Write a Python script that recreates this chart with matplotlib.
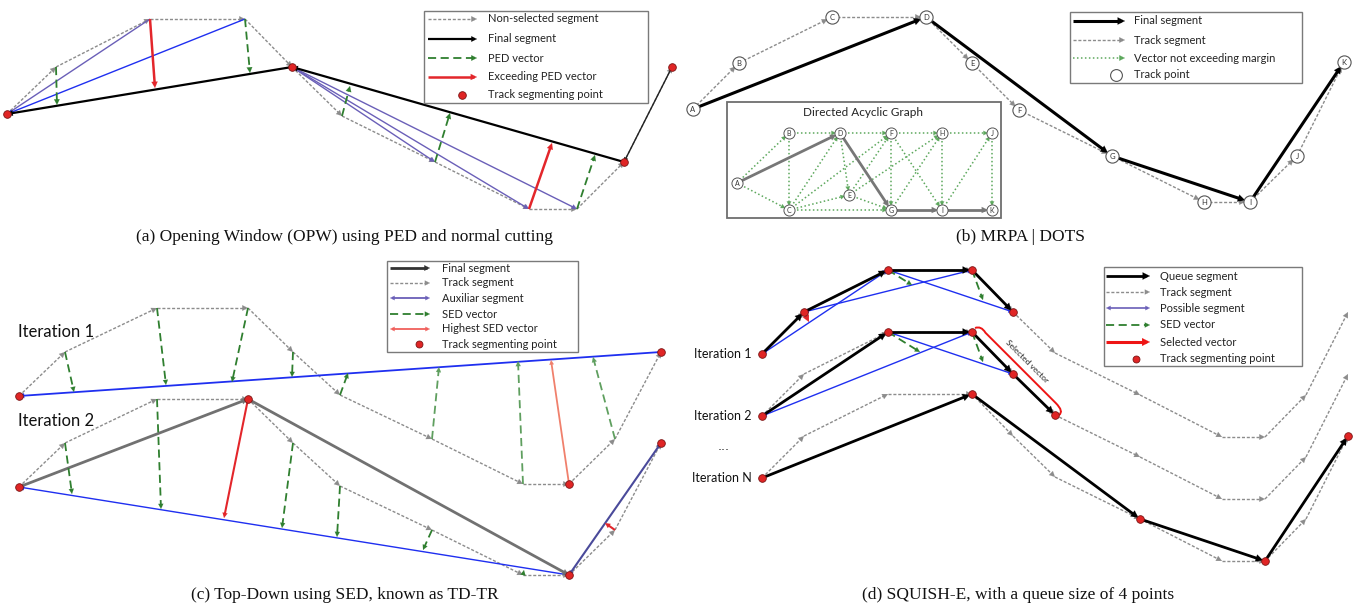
import numpy as np
import matplotlib.pyplot as plt
from matplotlib.patches import Rectangle, PathPatch
from matplotlib.path import Path

# ---------------- data (figure pixel coordinates, y grows downward) ----------------
# (a) Opening Window
a_x = [7, 56, 150, 245, 292, 342, 435, 529, 577, 624, 672]
a_y = [114, 67, 19, 19, 67, 116, 162, 209, 209, 162, 67]
a_split = [0, 4, 9, 10]
a_ped_from = [1, 2, 3, 5, 6, 7, 8]
a_ped_x = [57, 155, 250, 350, 450, 552, 595]
a_ped_y = [105, 88, 73, 86, 113, 143, 155]
a_exceed = [2, 7]

# (b) MRPA | DOTS
b_names = list('ABCDEFGHIJK')
b_x = [693, 739, 832, 926, 972, 1019, 1112, 1204, 1250, 1297, 1344]
b_y = [109, 63, 17, 17, 63, 110, 156, 202, 202, 156, 62]
b_final = 'ADGIK'
dag_x = [737, 789, 789, 840, 849, 891, 891, 942, 942, 992, 992]
dag_y = [183, 133, 210, 133, 195, 133, 210, 133, 210, 133, 210]
dag_edges = ['AB', 'AC', 'BC', 'BD', 'CD', 'CE', 'CF', 'CG', 'DE', 'DF', 'EF', 'EG',
             'EH', 'FG', 'FH', 'FI', 'GH', 'HI', 'HJ', 'IJ', 'JK']

# (c) Top-Down TD-TR
c_x = [19, 65, 157, 248, 293, 340, 432, 523, 569, 615, 661]
c_y = [396, 352, 308, 308, 352, 395, 439, 484, 484, 439, 352]
c_shift = 91
c1_from = [1, 2, 3, 4, 5, 6, 7, 8, 9]
c1_foot_x = [74, 166, 232, 292, 348, 439, 518, 551, 593]
c1_foot_y = [392, 385, 382, 377, 373, 367, 361, 360, 357]
c1_high = 8
c2_from = [1, 2, 3, 4, 5, 6, 7]
c2_foot_x = [72, 161, 224, 282, 337, 423, 524]
c2_foot_y = [494, 509, 518, 528, 537, 550, 570]
c2_high = 3
c2_split = [0, 3, 8, 10]
c2_aux_x, c2_aux_y = 605, 523

# (d) SQUISH-E
d_x = [762, 804, 888, 972, 1013, 1055, 1140, 1222, 1265, 1306, 1348]
d_y = [354, 312, 270, 270, 312, 353, 395, 437, 437, 395, 312]
d_shift = [0, 62, 124]
d_queue = [[0, 1, 2, 3, 4], [0, 2, 3, 4, 5], [0, 3, 6, 8, 10]]
d_possible = [[(0, 2), (1, 3), (2, 4)], [(0, 3), (2, 4)], []]
d_sed_from = [[2, 3], [2, 3], []]
d_sed_x = [[912, 983], [920, 983], []]
d_sed_y = [[285, 300], [352, 362], []]
d_sel_x, d_sel_y = 809, 322
d_labels = ['Iteration 1', 'Iteration 2', 'Iteration N']

GRAY = '#8c8c8c'
GREEN = '#2f7f2f'
LGREEN = '#5da85d'
RED = '#e3262b'
BLUE = '#1f2ff0'
PURPLE = '#6a5fb8'
DOTRED = '#e02525'
TRACK_LS = (0, (2.2, 1.3))
SED_LS = (0, (4.5, 2.5))
DAG_LS = (0, (1.0, 1.6))

fig = plt.figure(figsize=(13.58, 6.09), dpi=100)
ax = fig.add_axes([0, 0, 1, 1])
ax.set_xlim(0, 1358)
ax.set_ylim(609, 0)
ax.axis('off')

SANS = ['Lato', 'DejaVu Sans']
SERIF = ['Liberation Serif', 'DejaVu Serif']


def tip(b, d, color, size, alpha=1.0, z=3):
    ax.annotate('', xy=b, xytext=b - d, zorder=z,
                arrowprops=dict(arrowstyle='-|>', color=color, lw=0.1, alpha=alpha,
                                mutation_scale=size, shrinkA=0, shrinkB=0))


def seg(p, q, color, lw=1.0, ls='-', head=8, sa=0, sb=0, both=False, alpha=1.0, z=3):
    p = np.asarray(p, float)
    q = np.asarray(q, float)
    d = (q - p) / np.hypot(*(q - p))
    a, b = p + d * sa, q - d * sb
    hl = 0.3 * head if head else 0
    a2 = a + d * hl if (head and both) else a
    ax.plot([a2[0], (b - d * hl)[0]], [a2[1], (b - d * hl)[1]], color=color, lw=lw, ls=ls,
            alpha=alpha, zorder=z, solid_capstyle='butt')
    if head:
        tip(b, d, color, head, alpha, z)
        if both:
            tip(a, -d, color, head, alpha, z)


def dots(xs, ys):
    ax.plot(xs, ys, 'o', ms=5.5, mfc=DOTRED, mec='#7a1414', mew=0.6, zorder=7)


def legend_box(x0, y0, x1, y1):
    ax.add_patch(Rectangle((x0, y0), x1 - x0, y1 - y0, fc='white', ec='#7a7a7a', lw=1.0,
                           zorder=8))


def leg_text(x, y, s, size=8):
    ax.text(x, y, s, ha='left', va='center', fontsize=size, family=SANS, color='#222',
            zorder=10)


def pt(xs, ys, i, dy=0):
    return (xs[i], ys[i] + dy)


# ============================ (a) =============================
for i in range(len(a_x) - 1):
    seg(pt(a_x, a_y, i), pt(a_x, a_y, i + 1), GRAY, 1.0, TRACK_LS, head=10, z=2)
seg(pt(a_x, a_y, 2), pt(a_x, a_y, 0), PURPLE, 1.0, head=0, z=3)
seg(pt(a_x, a_y, 3), pt(a_x, a_y, 0), BLUE, 1.0, head=9, z=3)
for j in (6, 7, 8):
    seg(pt(a_x, a_y, 4), pt(a_x, a_y, j), PURPLE, 1.0, head=9, z=3)
seg(pt(a_x, a_y, 4), pt(a_x, a_y, 0), 'black', 1.6, head=10, z=4)
seg(pt(a_x, a_y, 9), pt(a_x, a_y, 4), 'black', 1.6, head=10, z=4)
seg(pt(a_x, a_y, 10), pt(a_x, a_y, 9), '#222', 1.0, head=8, z=4)
for k, i in enumerate(a_ped_from):
    if i in a_exceed:
        seg(pt(a_x, a_y, i), (a_ped_x[k], a_ped_y[k]), RED, 1.8, head=11, z=5)
    else:
        seg(pt(a_x, a_y, i), (a_ped_x[k], a_ped_y[k]), GREEN, 1.3, SED_LS, head=10, z=5)
dots([a_x[i] for i in a_split], [a_y[i] for i in a_split])

legend_box(424, 11, 648, 103)
seg((428, 19), (477, 19), GRAY, 1.0, TRACK_LS, head=10, z=9)
seg((428, 39), (477, 39), 'black', 1.6, head=10, z=9)
seg((428, 58), (477, 58), GREEN, 1.3, SED_LS, head=10, z=9)
seg((428, 77), (477, 77), RED, 1.8, head=11, z=9)
ax.plot(462, 95, 'o', ms=5.5, mfc=DOTRED, mec='#7a1414', mew=0.6, zorder=9)
for y, s in zip([19, 39, 58, 77, 95], ['Non-selected segment', 'Final segment', 'PED vector',
                                       'Exceeding PED vector', 'Track segmenting point']):
    leg_text(488, y, s)

# ============================ (b) =============================
for i in range(len(b_x) - 1):
    seg(pt(b_x, b_y, i), pt(b_x, b_y, i + 1), GRAY, 1.0, TRACK_LS, head=10, sa=5, sb=5, z=2)
for u, v in zip(b_final[:-1], b_final[1:]):
    i, j = b_names.index(u), b_names.index(v)
    seg(pt(b_x, b_y, i), pt(b_x, b_y, j), 'black', 2.2, head=13, sa=5, sb=5, z=4)
ax.plot(b_x, b_y, 'o', ms=9.5, mfc='white', mec='#555', mew=0.8, zorder=6)
for n, x, y in zip(b_names, b_x, b_y):
    ax.text(x, y + 0.3, n, ha='center', va='center', fontsize=5.5, family=SANS, color='#333',
            zorder=7)

ax.add_patch(Rectangle((727, 102), 274, 116, fc='white', ec='#6e6e6e', lw=1.3, zorder=1))
ax.text(863, 112, 'Directed Acyclic Graph', ha='center', va='center', fontsize=8.5,
        family=SANS, color='#222')
for e in dag_edges:
    i, j = b_names.index(e[0]), b_names.index(e[1])
    seg(pt(dag_x, dag_y, i), pt(dag_x, dag_y, j), LGREEN, 1.1, DAG_LS, head=8, sa=4, sb=4, z=2)
for u, v in zip(b_final[:-1], b_final[1:]):
    i, j = b_names.index(u), b_names.index(v)
    seg(pt(dag_x, dag_y, i), pt(dag_x, dag_y, j), '#777', 2.0, head=11, sa=4, sb=4, z=3)
ax.plot(dag_x, dag_y, 'o', ms=8, mfc='white', mec='#555', mew=0.7, zorder=6)
for n, x, y in zip(b_names, dag_x, dag_y):
    ax.text(x, y + 0.3, n, ha='center', va='center', fontsize=5, family=SANS, color='#333',
            zorder=7)

legend_box(1070, 12, 1302, 83)
seg((1073, 21), (1125, 21), 'black', 2.2, head=13, z=9)
seg((1073, 40), (1125, 40), GRAY, 1.0, TRACK_LS, head=10, z=9)
seg((1073, 58), (1125, 58), LGREEN, 1.1, DAG_LS, head=10, z=9)
ax.plot(1116, 75, 'o', ms=8.5, mfc='white', mec='#555', mew=0.8, zorder=9)
for y, s in zip([21, 40, 58, 75], ['Final segment', 'Track segment',
                                   'Vector not exceeding margin', 'Track point']):
    leg_text(1134, y, s)

# ============================ (c) =============================
for it in range(2):
    dy = it * c_shift
    for i in range(len(c_x) - 1):
        seg(pt(c_x, c_y, i, dy), pt(c_x, c_y, i + 1, dy), GRAY, 1.0, TRACK_LS, head=10, z=2)
# iteration 1
seg(pt(c_x, c_y, 10), pt(c_x, c_y, 0), BLUE, 1.3, head=9, z=3)
for k, i in enumerate(c1_from):
    p, q = pt(c_x, c_y, i), (c1_foot_x[k], c1_foot_y[k])
    if i == c1_high:
        seg(p, q, '#f0806c', 1.3, head=8, z=5)
    else:
        seg(p, q, GREEN if i < 6 else '#5f9f5f', 1.3, SED_LS, head=9, z=5)
dots([c_x[0], c_x[8], c_x[10]], [c_y[0], c_y[8], c_y[10]])
# iteration 2
s = c_shift
seg(pt(c_x, c_y, 0, s), pt(c_x, c_y, 3, s), '#717171', 2.0, head=11, z=4)
seg(pt(c_x, c_y, 3, s), pt(c_x, c_y, 8, s), '#717171', 2.0, head=11, z=4)
seg(pt(c_x, c_y, 8, s), pt(c_x, c_y, 0, s), BLUE, 1.0, head=9, z=3)
seg(pt(c_x, c_y, 8, s), pt(c_x, c_y, 10, s), '#4a4a9a', 1.5, head=8, both=True, z=4)
for k, i in enumerate(c2_from):
    p, q = pt(c_x, c_y, i, s), (c2_foot_x[k], c2_foot_y[k])
    if i == c2_high:
        seg(p, q, RED, 1.5, head=9, z=5)
    else:
        seg(p, q, GREEN, 1.3, SED_LS, head=9, z=5)
seg(pt(c_x, c_y, 9, s), (c2_aux_x, c2_aux_y), RED, 1.5, head=9, z=5)
dots([c_x[i] for i in c2_split], [c_y[i] + s for i in c2_split])
ax.text(18, 332, 'Iteration 1', ha='left', va='center', fontsize=12, family=SANS, color='#111')
ax.text(18, 421, 'Iteration 2', ha='left', va='center', fontsize=12, family=SANS, color='#111')

legend_box(387, 261, 578, 352)
seg((390, 268), (430, 268), '#333', 2.0, head=10, z=9)
seg((390, 283), (430, 283), GRAY, 1.0, TRACK_LS, head=9, z=9)
seg((390, 298), (430, 298), PURPLE, 1.3, head=8, both=True, z=9)
seg((390, 314), (430, 314), GREEN, 1.3, SED_LS, head=9, z=9)
seg((390, 329), (430, 329), '#f0605c', 1.3, head=8, both=True, z=9)
ax.plot(419, 344, 'o', ms=5, mfc=DOTRED, mec='#7a1414', mew=0.6, zorder=9)
for y, t in zip([268, 283, 298, 314, 329, 344],
                ['Final segment', 'Track segment', 'Auxiliar segment', 'SED vector',
                 'Highest SED vector', 'Track segmenting point']):
    leg_text(442, y, t)

# ============================ (d) =============================
for it, dy in enumerate(d_shift):
    for i in range(len(d_x) - 1):
        seg(pt(d_x, d_y, i, dy), pt(d_x, d_y, i + 1, dy), GRAY, 1.0, TRACK_LS, head=10, z=2)
    for i, j in d_possible[it]:
        seg(pt(d_x, d_y, i, dy), pt(d_x, d_y, j, dy), BLUE, 1.0, head=8, both=True, z=3)
    for i, j in zip(d_queue[it][:-1], d_queue[it][1:]):
        seg(pt(d_x, d_y, i, dy), pt(d_x, d_y, j, dy), 'black', 2.0, head=13, sb=2, z=4)
    for k, i in enumerate(d_sed_from[it]):
        seg(pt(d_x, d_y, i, dy), (d_sed_x[it][k], d_sed_y[it][k]), GREEN, 1.3, SED_LS,
            head=9, z=5)
    dots([d_x[i] for i in d_queue[it]], [d_y[i] + dy for i in d_queue[it]])
    ax.text(752, d_y[0] + dy, d_labels[it], ha='right', va='center', fontsize=9,
            family=SANS, color='#111')
ax.text(724, 446, '...', ha='center', va='center', fontsize=9, family='DejaVu Sans',
        color='#222')
seg(pt(d_x, d_y, 1), (d_sel_x, d_sel_y), RED, 1.0, head=12, z=6)

# selected vector bracket (iteration 2)
r3 = np.array(pt(d_x, d_y, 3, d_shift[1]), float)
r5 = np.array(pt(d_x, d_y, 5, d_shift[1]), float)
u = (r5 - r3) / np.hypot(*(r5 - r3))
n = np.array([u[1], -u[0]])
a0 = r3 + n * 9 + u * 10
b0 = r5 + n * 9 - u * 8
verts = [r3 + np.array([3, -4]), r3 + n * 11 + u * 2, a0, b0, r5 + n * 9 + u * 4, r5 + np.array([4, 0])]
codes = [Path.MOVETO, Path.CURVE3, Path.CURVE3, Path.LINETO, Path.CURVE3, Path.CURVE3]
ax.add_patch(PathPatch(Path(verts, codes), fc='none', ec='#ee1515', lw=1.4, zorder=6))
mid = (a0 + b0) / 2 + n * 9
ax.text(mid[0], mid[1], 'Selected vector', ha='center', va='center', fontsize=6,
        rotation=-np.degrees(np.arctan2(u[1], u[0])), rotation_mode='anchor',
        family=SANS, color='#222')

legend_box(1104, 267, 1302, 366)
seg((1106, 276), (1150, 276), 'black', 2.0, head=13, z=9)
seg((1106, 292), (1150, 292), GRAY, 1.0, TRACK_LS, head=9, z=9)
seg((1106, 308), (1150, 308), PURPLE, 1.2, head=8, both=True, z=9)
seg((1106, 325), (1150, 325), GREEN, 1.3, SED_LS, head=9, z=9)
seg((1106, 342), (1150, 342), '#ee1515', 2.2, head=14, z=9)
ax.plot(1136, 359, 'o', ms=5, mfc=DOTRED, mec='#7a1414', mew=0.6, zorder=9)
for y, t in zip([276, 292, 308, 325, 342, 359],
                ['Queue segment', 'Track segment', 'Possible segment', 'SED vector',
                 'Selected vector', 'Track segmenting point']):
    leg_text(1160, y, t)

# ============================ captions =============================
caps = [(344, 237, '(a) Opening Window (OPW) using PED and normal cutting'),
        (1021, 237, '(b) MRPA | DOTS'),
        (345, 595, '(c) Top-Down using SED, known as TD-TR'),
        (1018, 595, '(d) SQUISH-E, with a queue size of 4 points')]
for x, y, t in caps:
    ax.text(x, y, t, ha='center', va='center', fontsize=12.5, family=SERIF, color='#111')

fig.savefig('out.png', dpi=100)
